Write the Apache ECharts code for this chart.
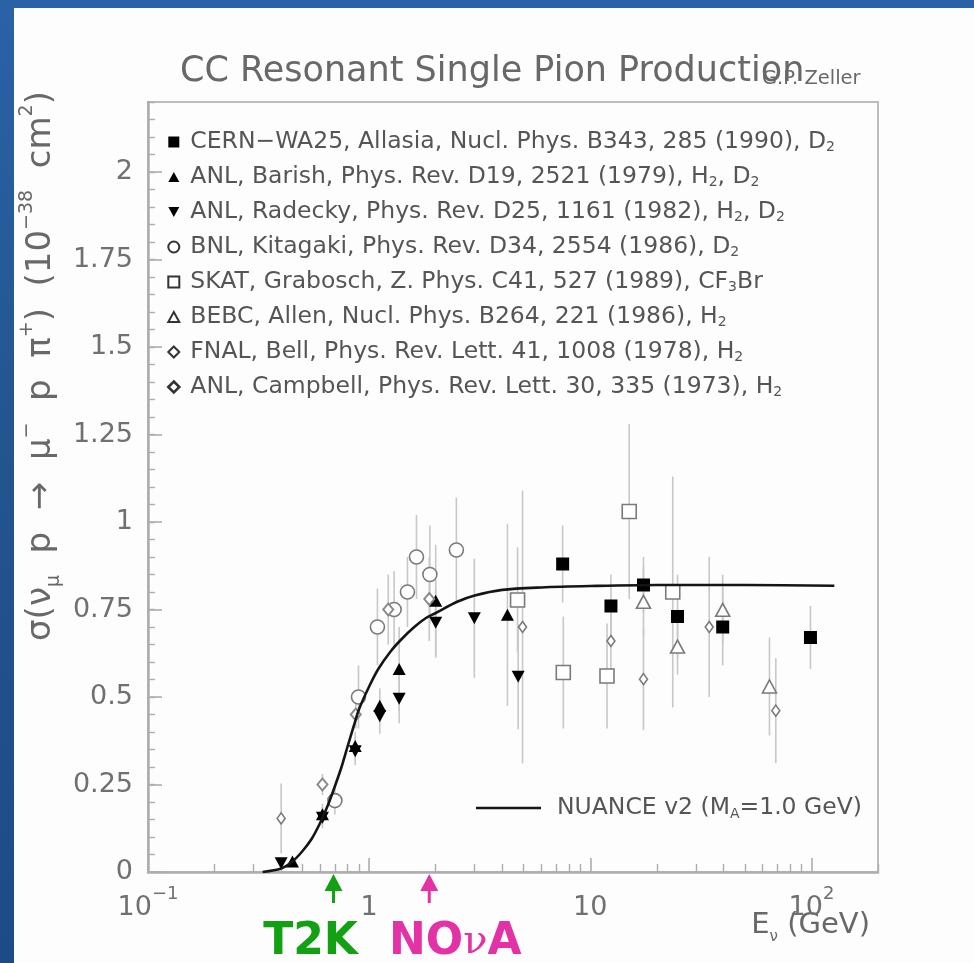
<!DOCTYPE html>
<html>
<head>
<meta charset="utf-8">
<title>CC Resonant Single Pion Production</title>
<script src="https://cdn.jsdelivr.net/npm/echarts@6/dist/echarts.min.js"></script>
<style>
  html, body { margin: 0; padding: 0; width: 974px; height: 963px; overflow: hidden;
    background: linear-gradient(180deg, #2b62a7 0%, #23558f 45%, #1d4b88 100%); }
  #panel { position: absolute; left: 14px; top: 8px; width: 960px; height: 955px; background: #fdfdfd; }
  #chart { position: absolute; left: 0; top: 0; width: 974px; height: 963px; }
</style>
</head>
<body>
<div id="panel"></div>
<div id="chart"></div>
<script>
// ---- Measurements: neutrino energy (GeV), cross section (1e-38 cm^2), error ----
const cernE      = [7.5, 12.4, 17.4, 24.8, 39.7, 99];
const cernSigma  = [0.88, 0.76, 0.82, 0.73, 0.70, 0.67];
const cernErr    = [0.11, 0.09, 0.08, 0.12, 0.11, 0.09];

const barishE     = [0.45, 0.615, 0.865, 1.117, 1.367, 2.0, 4.22];
const barishSigma = [0.03, 0.165, 0.36, 0.475, 0.58, 0.775, 0.735];
const barishErr   = [0.01, 0.03, 0.04, 0.05, 0.12, 0.16, 0.26];

const radeckyE     = [0.40, 0.615, 0.865, 1.117, 1.367, 2.0, 2.99, 4.72];
const radeckySigma = [0.025, 0.155, 0.345, 0.445, 0.495, 0.712, 0.725, 0.558];
const radeckyErr   = [0.01, 0.03, 0.04, 0.05, 0.07, 0.10, 0.17, 0.15];

const kitagakiE     = [0.70, 0.895, 1.09, 1.297, 1.49, 1.637, 1.882, 2.48];
const kitagakiSigma = [0.204, 0.50, 0.70, 0.75, 0.80, 0.90, 0.85, 0.92];
const kitagakiErr   = [0.04, 0.09, 0.11, 0.11, 0.10, 0.12, 0.14, 0.15];

const skatE     = [4.69, 7.55, 11.9, 15.0, 23.6];
const skatSigma = [0.777, 0.57, 0.56, 1.03, 0.80];
const skatErr   = [0.15, 0.16, 0.15, 0.25, 0.33];

const bebcE     = [17.4, 24.8, 39.7, 64.6];
const bebcSigma = [0.772, 0.644, 0.749, 0.53];
const bebcErr   = [0.10, 0.08, 0.10, 0.14];

const bellE     = [0.40, 4.94, 12.4, 17.4, 34.5, 69];
const bellSigma = [0.153, 0.70, 0.66, 0.551, 0.70, 0.461];
const bellErr   = [0.10, 0.39, 0.12, 0.145, 0.20, 0.15];

const campbellE     = [0.615, 0.87, 1.22, 1.87];
const campbellSigma = [0.25, 0.45, 0.75, 0.78];
const campbellErr   = [0.03, 0.04, 0.10, 0.12];

// ---- NUANCE v2 prediction (M_A = 1.0 GeV) ----
const nuanceE     = [0.33, 0.40, 0.45, 0.50, 0.55, 0.60, 0.65, 0.70, 0.75, 0.80, 0.85, 0.90, 1.0, 1.1, 1.25, 1.4, 1.6, 1.8, 2.0, 2.5, 3.0, 4.0, 6.0, 10, 20, 50, 127];
const nuanceSigma = [0, 0.01, 0.03, 0.06, 0.095, 0.14, 0.19, 0.245, 0.30, 0.36, 0.415, 0.465, 0.53, 0.58, 0.63, 0.665, 0.70, 0.725, 0.74, 0.772, 0.79, 0.806, 0.813, 0.817, 0.82, 0.82, 0.818];

// ---- Axis ticks ----
const energyTicks = [0.1, 1, 10, 100];
const sigmaTicks  = [0, 0.25, 0.5, 0.75, 1, 1.25, 1.5, 1.75, 2];

// ---- Experiment beam energies marked under the axis ----
const experimentNames  = ['T2K', 'NOνA'];
const experimentEnergy = [0.69, 1.87];

// ---- Legend texts ----
const legendLabels = [
  'CERN−WA25, Allasia, Nucl. Phys. B343, 285 (1990), D{s|2}',
  'ANL, Barish, Phys. Rev. D19, 2521 (1979), H{s|2}, D{s|2}',
  'ANL, Radecky, Phys. Rev. D25, 1161 (1982), H{s|2}, D{s|2}',
  'BNL, Kitagaki, Phys. Rev. D34, 2554 (1986), D{s|2}',
  'SKAT, Grabosch, Z. Phys. C41, 527 (1989), CF{s|3}Br',
  'BEBC, Allen, Nucl. Phys. B264, 221 (1986), H{s|2}',
  'FNAL, Bell, Phys. Rev. Lett. 41, 1008 (1978), H{s|2}',
  'ANL, Campbell, Phys. Rev. Lett. 30, 335 (1973), H{s|2}'
];
const seriesKeys = ['CERN-WA25', 'ANL Barish', 'ANL Radecky', 'BNL Kitagaki', 'SKAT', 'BEBC', 'FNAL Bell', 'ANL Campbell'];
const nuanceKey = 'NUANCE';

const FONT = '"DejaVu Sans", "Noto Sans", sans-serif';
const GREY_TEXT = '#686868';
const AXIS_GREY = '#adadad';

const measurements = [
  [cernE, cernSigma, cernErr],
  [barishE, barishSigma, barishErr],
  [radeckyE, radeckySigma, radeckyErr],
  [kitagakiE, kitagakiSigma, kitagakiErr],
  [skatE, skatSigma, skatErr],
  [bebcE, bebcSigma, bebcErr],
  [bellE, bellSigma, bellErr],
  [campbellE, campbellSigma, campbellErr]
];

// marker look for each experiment
const TRI_UP = 'path://M5,0L10,9L0,9Z';
const TRI_DOWN = 'path://M0,0L10,0L5,9Z';
const openStyle = { color: '#ffffff', borderColor: '#7a7a7a', borderWidth: 1.6, opacity: 1 };
const markerStyles = [
  { symbol: 'rect', size: 13, item: { color: '#000', opacity: 1 } },
  { symbol: TRI_UP, size: [13, 12], item: { color: '#000', opacity: 1 } },
  { symbol: TRI_DOWN, size: [13, 12], item: { color: '#000', opacity: 1 } },
  { symbol: 'circle', size: 14, item: openStyle },
  { symbol: 'rect', size: 14, item: openStyle },
  { symbol: TRI_UP, size: [14, 13], item: openStyle },
  { symbol: 'diamond', size: [8, 11], item: openStyle },
  { symbol: 'diamond', size: [10, 12], item: { color: '#ffffff', borderColor: '#8a8a8a', borderWidth: 2, opacity: 1 } }
];
const legendIconStyles = [
  { color: '#000', opacity: 1 }, { color: '#000', opacity: 1 }, { color: '#000', opacity: 1 },
  { color: '#fff', borderColor: '#333', borderWidth: 2, opacity: 1 },
  { color: '#fff', borderColor: '#333', borderWidth: 2, opacity: 1 },
  { color: '#fff', borderColor: '#333', borderWidth: 2, opacity: 1 },
  { color: '#fff', borderColor: '#333', borderWidth: 2, opacity: 1 },
  { color: '#fff', borderColor: '#333', borderWidth: 2.6, opacity: 1 }
];

// minor tick positions for the axes
const energyMinor = [];
[0.1, 1, 10].forEach(dec => { for (let k = 2; k <= 9; k++) energyMinor.push(+(dec * k).toPrecision(3)); });
energyMinor.push(200);
const sigmaMinor = [];
for (let k = 1; k <= 44; k++) sigmaMinor.push(+(k * 0.05).toFixed(2));

const series = [];
measurements.forEach((m, i) => {
  const [xs, ys, es] = m;
  // vertical error bars
  series.push({
    type: 'custom',
    silent: true,
    clip: true,
    z: 1,
    data: xs.map((x, j) => [x, ys[j], es[j]]),
    renderItem: (params, api) => {
      const x = api.value(0), y = api.value(1), e = api.value(2);
      const p1 = api.coord([x, y + e]);
      const p2 = api.coord([x, Math.max(y - e, 0)]);
      return { type: 'line', shape: { x1: p1[0], y1: p1[1], x2: p2[0], y2: p2[1] },
               style: { stroke: '#c8c8c8', lineWidth: 1.6 } };
    }
  });
  const st = markerStyles[i];
  series.push({
    type: 'scatter',
    name: seriesKeys[i],
    symbol: st.symbol,
    symbolSize: st.size,
    itemStyle: st.item,
    z: 3,
    data: xs.map((x, j) => [x, ys[j]])
  });
});
series.push({
  type: 'line',
  name: nuanceKey,
  data: nuanceE.map((x, j) => [x, nuanceSigma[j]]),
  smooth: 0.3,
  showSymbol: false,
  symbol: 'none',
  itemStyle: { color: '#151515' },
  lineStyle: { color: '#151515', width: 2.6 },
  z: 4
});

const supRich = {
  b: { fontFamily: FONT, fontSize: 27, color: '#707070', lineHeight: 36, verticalAlign: 'bottom' },
  sup: { fontFamily: FONT, fontSize: 18, color: '#707070', lineHeight: 14, verticalAlign: 'top' }
};
const subRich = { s: { fontFamily: FONT, fontSize: 14, color: '#555', lineHeight: 8, verticalAlign: 'bottom' } };

const chart = echarts.init(document.getElementById('chart'), null, { renderer: 'canvas' });
const option = {
  animation: false,
  grid: { left: 148, right: 96, top: 102, bottom: 91, show: true, borderColor: '#bdbdbd', borderWidth: 2, backgroundColor: 'transparent' },
  xAxis: [{
    type: 'log', logBase: 10, min: 0.1, max: 200, position: 'bottom',
    axisLine: { show: true, lineStyle: { color: AXIS_GREY, width: 2.5 } },
    axisTick: { show: true, inside: true, length: 14, customValues: energyTicks, lineStyle: { color: AXIS_GREY, width: 1.6 } },
    axisLabel: {
      customValues: energyTicks, margin: 13,
      formatter: v => {
        if (Math.abs(v - 0.1) < 1e-9) return '{b|10}{sup|−1}';
        if (Math.abs(v - 100) < 1e-6) return '{b|10}{sup|2}';
        return '{b|' + v + '}';
      },
      rich: supRich
    },
    splitLine: { show: false }
  }, {
    type: 'log', logBase: 10, min: 0.1, max: 200, position: 'bottom',
    axisLine: { show: false },
    axisLabel: { show: false },
    axisTick: { show: true, inside: true, length: 8, customValues: energyMinor, lineStyle: { color: AXIS_GREY, width: 1.4 } },
    splitLine: { show: false }
  }],
  yAxis: [{
    type: 'value', min: 0, max: 2.2, position: 'left',
    axisLine: { show: true, lineStyle: { color: AXIS_GREY, width: 2.5 } },
    axisTick: { show: true, inside: true, length: 14, customValues: sigmaTicks, lineStyle: { color: AXIS_GREY, width: 1.6 } },
    axisLabel: { customValues: sigmaTicks, margin: 15, fontFamily: FONT, fontSize: 27, color: '#707070' },
    splitLine: { show: false }
  }, {
    type: 'value', min: 0, max: 2.2, position: 'left',
    axisLine: { show: false },
    axisLabel: { show: false },
    axisTick: { show: true, inside: true, length: 7, customValues: sigmaMinor, lineStyle: { color: AXIS_GREY, width: 1.4 } },
    splitLine: { show: false }
  }],
  legend: [{
    orient: 'vertical',
    left: 167, top: 130,
    padding: 0,
    itemWidth: 11, itemHeight: 11, itemGap: 11,
    selectedMode: false,
    data: seriesKeys.map((k, i) => ({ name: k, itemStyle: legendIconStyles[i] })),
    formatter: name => legendLabels[seriesKeys.indexOf(name)],
    textStyle: {
      fontFamily: FONT, fontSize: 23.5, color: '#555', lineHeight: 24, padding: [0, 0, 0, 6],
      rich: subRich
    }
  }, {
    orient: 'horizontal',
    left: 476, top: 795,
    padding: 0,
    itemWidth: 65, itemHeight: 2.6,
    icon: 'rect',
    selectedMode: false,
    data: [{ name: nuanceKey, itemStyle: { color: '#151515' } }],
    formatter: () => 'NUANCE v2 (M{s|A}=1.0 GeV)',
    textStyle: {
      fontFamily: FONT, fontSize: 23.5, color: '#555', lineHeight: 26, padding: [0, 0, 0, 11],
      rich: subRich
    }
  }],
  series: series
};
chart.setOption(option);

// ---- texts and the beam-energy arrows ----
const graphics = [
  { type: 'text', x: 180, y: 72, style: { text: 'CC Resonant Single Pion Production', fontFamily: FONT, fontSize: 35, fill: GREY_TEXT, verticalAlign: 'middle' } },
  { type: 'text', x: 762, y: 79, style: { text: 'G.P. Zeller', fontFamily: FONT, fontSize: 19.5, fill: GREY_TEXT, verticalAlign: 'middle' } },
  { type: 'text', x: 41, y: 366, rotation: Math.PI / 2,
    style: {
      text: '{m|σ(ν}{sub|μ}{m|  p  →  μ}{sup|−}{m|  p  π}{sup|+}{m|)  (10}{sup|−38}{m|  cm}{sup|2}{m|)}',
      align: 'center', verticalAlign: 'middle',
      rich: {
        m: { fontFamily: FONT, fontSize: 34, fill: GREY_TEXT, lineHeight: 46, verticalAlign: 'middle' },
        sup: { fontFamily: FONT, fontSize: 19, fill: GREY_TEXT, lineHeight: 17, verticalAlign: 'top' },
        sub: { fontFamily: FONT, fontSize: 19, fill: GREY_TEXT, lineHeight: 17, verticalAlign: 'bottom' }
      }
    } },
  { type: 'text', x: 870, y: 925,
    style: {
      text: '{m|E}{sub|ν}{m| (GeV)}', align: 'right', verticalAlign: 'middle',
      rich: {
        m: { fontFamily: FONT, fontSize: 29, fill: GREY_TEXT, lineHeight: 40, verticalAlign: 'middle' },
        sub: { fontFamily: FONT, fontSize: 15, fill: GREY_TEXT, lineHeight: 14, verticalAlign: 'bottom' }
      }
    } }
];

const experimentColors = ['#13a013', '#e332a6'];
const labelOffsets = [-23, 26];
experimentEnergy.forEach((e, i) => {
  const px = chart.convertToPixel({ xAxisIndex: 0 }, e);
  const c = experimentColors[i];
  graphics.push({ type: 'polygon', shape: { points: [[px, 874], [px - 9, 891], [px + 9, 891]] }, style: { fill: c } });
  graphics.push({ type: 'rect', shape: { x: px - 1.5, y: 889, width: 3, height: 14 }, style: { fill: c } });
  const txt = i === 1 ? '{a|NO}{n|ν}{a|A}' : '{a|' + experimentNames[i] + '}';
  graphics.push({ type: 'text', x: px + labelOffsets[i], y: 943,
    style: {
      text: txt, align: 'center', verticalAlign: 'middle',
      rich: {
        a: { fontFamily: FONT, fontWeight: 'bold', fontSize: 44, fill: c, lineHeight: 50, verticalAlign: 'middle' },
        n: { fontFamily: '"DejaVu Serif", serif', fontSize: 40, fill: c, lineHeight: 50, verticalAlign: 'middle' }
      }
    } });
});
chart.setOption({ graphic: graphics });
</script>
</body>
</html>
